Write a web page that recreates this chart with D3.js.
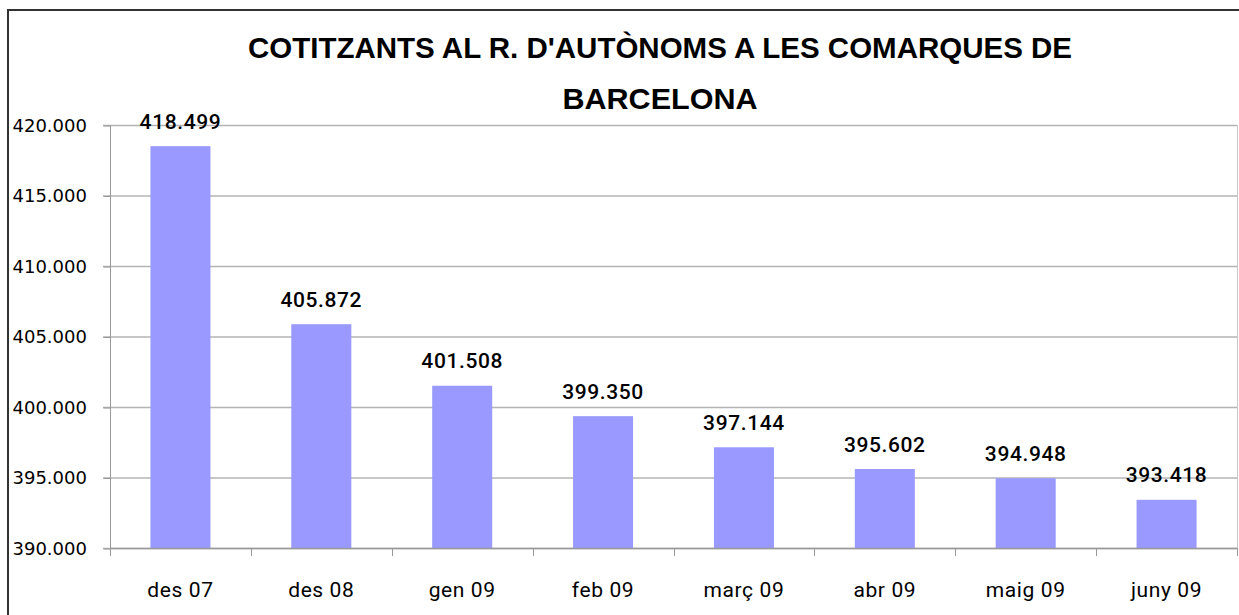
<!DOCTYPE html>
<html>
<head>
<meta charset="utf-8">
<script src="https://cdn.jsdelivr.net/npm/d3@7"></script>
<style>
  body { margin: 0; background: #fff; }
  text { font-family: Roboto, "DejaVu Sans", sans-serif; fill: #000; }
</style>
</head>
<body>
<svg></svg>
<script>
const categories = ['des 07', 'des 08', 'gen 09', 'feb 09', 'març 09', 'abr 09', 'maig 09', 'juny 09']
const values = [418499, 405872, 401508, 399350, 397144, 395602, 394948, 393418]
const yTicks = [390000, 395000, 400000, 405000, 410000, 415000, 420000]
const titleLines = ["COTITZANTS AL R. D'AUTÒNOMS A LES COMARQUES DE", 'BARCELONA']

const width = 1239
const height = 615
const plot = { left: 110, right: 1237, top: 125, bottom: 548 }

// thousands separator is a dot here
const fmt = d => d3.format(',')(d).replace(/,/g, '.')

const svg = d3.select('svg')
    .attr('width', width)
    .attr('height', height)

// outer frame
svg.append('rect')
    .attr('x', 8).attr('y', 10)
    .attr('width', width + 10).attr('height', height + 10)
    .attr('fill', 'none')
    .attr('stroke', '#333')
    .attr('stroke-width', 2)

const x = d3.scaleBand()
    .domain(categories)
    .range([plot.left, plot.right])
    .paddingInner(0.574)
    .paddingOuter(0.287)

const y = d3.scaleLinear()
    .domain([390000, 420000])
    .range([plot.bottom, plot.top])

// gridlines
svg.append('g')
    .selectAll('line')
    .data(yTicks)
    .enter()
    .append('line')
    .attr('x1', plot.left - 7)
    .attr('x2', plot.right)
    .attr('y1', d => y(d) + 0.5)
    .attr('y2', d => y(d) + 0.5)
    .attr('stroke', '#b4b4b4')
    .attr('stroke-width', 1.3)

// right border of plot area
svg.append('line')
    .attr('x1', plot.right + 0.5).attr('x2', plot.right + 0.5)
    .attr('y1', plot.top).attr('y2', plot.bottom)
    .attr('stroke', '#c8c8c8')

// bars
svg.selectAll('.bar')
    .data(values)
    .enter()
    .append('rect')
    .attr('class', 'bar')
    .attr('x', (d, i) => x(categories[i]))
    .attr('y', d => y(d))
    .attr('width', x.bandwidth())
    .attr('height', d => plot.bottom - y(d))
    .attr('fill', '#9999ff')

// y axis
const yAxis = d3.axisLeft(y)
    .tickValues(yTicks)
    .tickFormat(fmt)
    .tickSize(7)
    .tickPadding(13)
svg.append('g')
    .attr('id', 'y-axis')
    .attr('transform', `translate(${plot.left + 0.5}, 0.5)`)
    .call(yAxis)
    .call(g => g.select('.domain').remove())
    .call(g => g.selectAll('line').attr('stroke', '#999'))
    .call(g => g.selectAll('text')
        .attr('text-anchor', 'start')
        .attr('x', -98)
        .attr('font-size', 18)
        .style('font-family', '"DejaVu Sans", sans-serif'))

svg.append('line')
    .attr('x1', plot.left + 0.5).attr('x2', plot.left + 0.5)
    .attr('y1', plot.top).attr('y2', plot.bottom + 8)
    .attr('stroke', '#999')

// x axis: ticks at category boundaries
const step = x.step()
const boundaries = d3.range(categories.length + 1).map(i => plot.left + i * step)
svg.append('line')
    .attr('x1', plot.left).attr('x2', plot.right)
    .attr('y1', plot.bottom + 0.5).attr('y2', plot.bottom + 0.5)
    .attr('stroke', '#999').attr('stroke-width', 1.3)
svg.append('g')
    .selectAll('line')
    .data(boundaries)
    .enter()
    .append('line')
    .attr('x1', d => Math.round(d) + 0.5)
    .attr('x2', d => Math.round(d) + 0.5)
    .attr('y1', plot.bottom)
    .attr('y2', plot.bottom + 8)
    .attr('stroke', '#999')

svg.append('g')
    .selectAll('text')
    .data(categories)
    .enter()
    .append('text')
    .attr('x', d => x(d) + x.bandwidth() / 2)
    .attr('y', 597)
    .attr('text-anchor', 'middle')
    .attr('font-size', 21)
    .attr('letter-spacing', 0.6)
    .text(d => d)

// value labels
svg.append('g')
    .selectAll('text')
    .data(values)
    .enter()
    .append('text')
    .attr('x', (d, i) => x(categories[i]) + x.bandwidth() / 2)
    .attr('y', d => y(d) - 17.5)
    .attr('text-anchor', 'middle')
    .attr('font-size', 21)
    .attr('font-weight', 500)
    .attr('letter-spacing', 0.6)
    .text(fmt)

// title: tall, narrow glyphs
svg.append('g')
    .selectAll('text')
    .data(titleLines)
    .enter()
    .append('text')
    .attr('x', 660)
    .attr('y', (d, i) => 58 + i * 51)
    .attr('text-anchor', 'middle')
    .attr('font-size', 30)
    .attr('font-weight', 'bold')
    .attr('textLength', (d, i) => i === 0 ? 824 : 195)
    .attr('lengthAdjust', 'spacingAndGlyphs')
    .style('font-family', '"Liberation Sans", Arial, sans-serif')
    .text(d => d)
</script>
</body>
</html>
